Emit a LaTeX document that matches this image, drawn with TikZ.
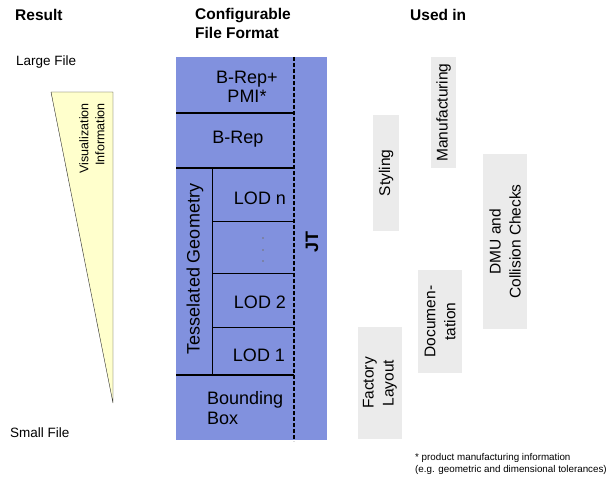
\documentclass[tikz,border=0pt]{standalone}
\usepackage{fontspec}
\setmainfont{Liberation Sans}
\usetikzlibrary{positioning}

\definecolor{jtblue}{RGB}{129,145,222}
\definecolor{usegray}{RGB}{235,235,235}
\definecolor{vizyellow}{RGB}{255,255,204}

\begin{document}
\begin{tikzpicture}[x=1pt,y=-1pt,
		head/.style={font=\bfseries\fontsize{15.5}{19}\selectfont, align=left, anchor=west, inner sep=0},
		side/.style={font=\fontsize{13.5}{16}\selectfont, anchor=west, inner sep=0},
		layer/.style={font=\fontsize{18}{18.5}\selectfont, align=center, inner sep=0},
		usebox/.style={fill=usegray, rotate=90, inner sep=0, align=center, font=\fontsize{15.5}{20}\selectfont}]
		\useasboundingbox (0,0) rectangle (608,481);
		% Draw headers
		\node[head] (result) at (15,15) {Result};
		\node[head] (format) at (195,23) {Configurable\\File Format};
		\node[head] (usedin) at (410,15) {Used in};
		\node[side] (large) at (16,62) {Large File};
		\node[side] (small) at (10,433) {Small File};
		
		% Draw the wedge
		\filldraw[fill=vizyellow, draw=black!85] (51,92) -- (113,92) -- (113,403) -- cycle;
		\node[rotate=90, anchor=east, align=right, inner sep=0, font=\fontsize{12.5}{16}\selectfont] (viz) at (92,103) {Visualization\\Information};
		
		% Draw the JT block
		\fill[jtblue] (176,57) rectangle (327,440);
		\foreach \y in {113, 168, 375}
			\draw[line width=1.6pt] (176,\y) -- (294,\y);
		\foreach \y in {221, 273, 327}
			\draw[line width=0.6pt] (212,\y) -- (294,\y);
		\draw[line width=0.6pt] (212,168) -- (212,375);
		\draw[line width=1.3pt, dash pattern=on 4pt off 2pt] (294,57) -- (294,441);
		
		\node[layer] (brepmi) at (247,87) {B-Rep+\\PMI*};
		\node[layer] (brep) at (238,139) {B-Rep};
		\node[layer] (lodn) at (260,198) {LOD n};
		\node[layer] (lodtwo) at (260,302) {LOD 2};
		\node[layer] (lodone) at (259,355) {LOD 1};
		\node[layer, align=left, anchor=west, font=\fontsize{18}{20}\selectfont] (bbox) at (207,408) {Bounding\\Box};
		\foreach \y in {238, 250, 261}
			\fill[black!55] (263,\y) circle (0.8pt);
		\node[layer, rotate=90] (tess) at (195,269) {Tesselated Geometry};
		\node[layer, rotate=90, font=\bfseries\fontsize{18}{18}\selectfont] (jt) at (312,242) {JT};
		
		% Draw the uses
		\node[usebox, minimum width=116, minimum height=26] (styling) at (386,173) {Styling};
		\node[usebox, minimum width=111, minimum height=25] (manuf) at (443.5,112.5) {Manufacturing};
		\node[usebox, minimum width=175, minimum height=44] (dmu) at (505,241.5) {DMU and\\Collision Checks};
		\node[usebox, minimum width=103, minimum height=44] (docu) at (440,321.5) {Documen-\\tation};
		\node[usebox, minimum width=112, minimum height=44] (factory) at (380,383) {Factory\\Layout};
		
		% Footnote
		\node[anchor=north west, align=left, inner sep=0, font=\fontsize{9.8}{12}\selectfont] (note) at (415,453) {* product manufacturing information\\(e.g. geometric and dimensional tolerances)};
\end{tikzpicture}
\end{document}
